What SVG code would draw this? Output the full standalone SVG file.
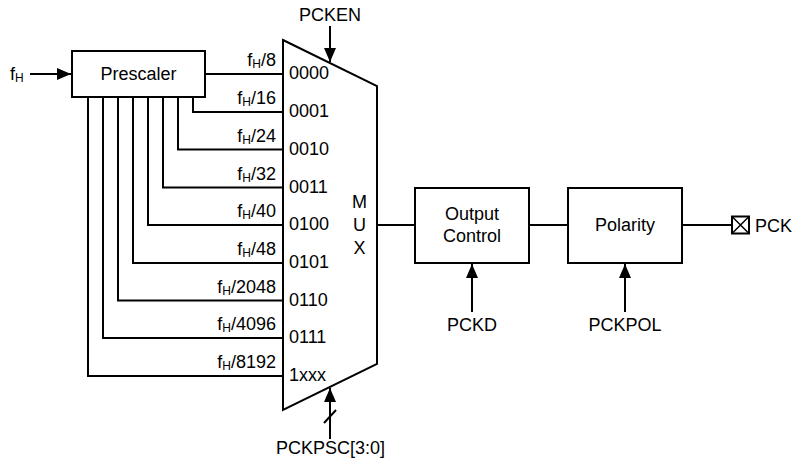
<svg xmlns="http://www.w3.org/2000/svg" width="794" height="462" viewBox="0 0 794 462">
<defs>
<style>
text{font-family:"Liberation Sans",Arial,sans-serif;font-size:18px;fill:#000}
.sub{font-size:12px}
.l{fill:none;stroke:#000;stroke-width:2}
.box{fill:#fff;stroke:#000;stroke-width:2}
.r{text-anchor:end}
.m{text-anchor:middle}
</style>
<marker id="ah" viewBox="0 0 14 12" refX="14" refY="6" markerWidth="14" markerHeight="12" markerUnits="userSpaceOnUse" orient="auto">
<path d="M0,0 L14,6 L0,12 Z" fill="#000"/>
</marker>
</defs>
<g id="connectors">
<path class="l" d="M30,74 H71" marker-end="url(#ah)"/>
<path class="l" d="M205,74 H283"/>
<path class="l" d="M193,97 V112 H283"/>
<path class="l" d="M178,97 V149.5 H283"/>
<path class="l" d="M163,97 V187.5 H283"/>
<path class="l" d="M148,97 V225 H283"/>
<path class="l" d="M133,97 V263 H283"/>
<path class="l" d="M118,97 V300.5 H283"/>
<path class="l" d="M103,97 V338 H283"/>
<path class="l" d="M88,97 V376 H283"/>
<path class="l" d="M330,26 V62" marker-end="url(#ah)"/>
<path class="l" d="M330,439 V388" marker-end="url(#ah)"/>
<path class="l" d="M324,423 L336,410"/>
<path class="l" d="M377,225 H415"/>
<path class="l" d="M529,225 H568"/>
<path class="l" d="M682,225 H732"/>
<path class="l" d="M472,312 V264" marker-end="url(#ah)"/>
<path class="l" d="M625,312 V264" marker-end="url(#ah)"/>
</g>
<g id="fH-in"><text x="10" y="80">f<tspan class="sub" dy="2">H</tspan></text></g>
<g id="prescaler">
<rect class="box" x="72" y="51" width="133" height="46"/>
<text class="m" x="138.5" y="80">Prescaler</text>
</g>
<g id="mux">
<path class="box" d="M283,40 L377,86 L377,364 L283,410 Z"/>
<text class="m" x="359.5" y="208">M</text>
<text class="m" x="359.5" y="231">U</text>
<text class="m" x="359.5" y="254">X</text>
<text x="289" y="79">0000</text>
<text x="289" y="117">0001</text>
<text x="289" y="155">0010</text>
<text x="289" y="192.5">0011</text>
<text x="289" y="230">0100</text>
<text x="289" y="268">0101</text>
<text x="289" y="305.5">0110</text>
<text x="289" y="343">0111</text>
<text x="289" y="381">1xxx</text>
</g>
<g id="rate-labels">
<text class="r" x="276" y="66">f<tspan class="sub" dy="2">H</tspan><tspan dy="-2">/8</tspan></text>
<text class="r" x="276" y="104">f<tspan class="sub" dy="2">H</tspan><tspan dy="-2">/16</tspan></text>
<text class="r" x="276" y="141.5">f<tspan class="sub" dy="2">H</tspan><tspan dy="-2">/24</tspan></text>
<text class="r" x="276" y="179.5">f<tspan class="sub" dy="2">H</tspan><tspan dy="-2">/32</tspan></text>
<text class="r" x="276" y="217">f<tspan class="sub" dy="2">H</tspan><tspan dy="-2">/40</tspan></text>
<text class="r" x="276" y="255">f<tspan class="sub" dy="2">H</tspan><tspan dy="-2">/48</tspan></text>
<text class="r" x="276" y="292.5">f<tspan class="sub" dy="2">H</tspan><tspan dy="-2">/2048</tspan></text>
<text class="r" x="276" y="330">f<tspan class="sub" dy="2">H</tspan><tspan dy="-2">/4096</tspan></text>
<text class="r" x="276" y="368">f<tspan class="sub" dy="2">H</tspan><tspan dy="-2">/8192</tspan></text>
</g>
<g id="pcken"><text class="m" x="330" y="21">PCKEN</text></g>
<g id="pckpsc"><text class="m" x="330.5" y="454">PCKPSC[3:0]</text></g>
<g id="output-control">
<rect class="box" x="415" y="188" width="114" height="75"/>
<text class="m" x="472" y="220">Output</text>
<text class="m" x="472" y="242">Control</text>
</g>
<g id="polarity">
<rect class="box" x="568" y="188" width="114" height="75"/>
<text class="m" x="625" y="231">Polarity</text>
</g>
<g id="pckd"><text class="m" x="472" y="331">PCKD</text></g>
<g id="pckpol"><text class="m" x="625" y="331">PCKPOL</text></g>
<g id="pck">
<rect class="box" x="732" y="216.5" width="17" height="17"/>
<path class="l" d="M732,216.5 L749,233.5 M749,216.5 L732,233.5" style="stroke-width:1.5"/>
<text x="755" y="232">PCK</text>
</g>
</svg>
